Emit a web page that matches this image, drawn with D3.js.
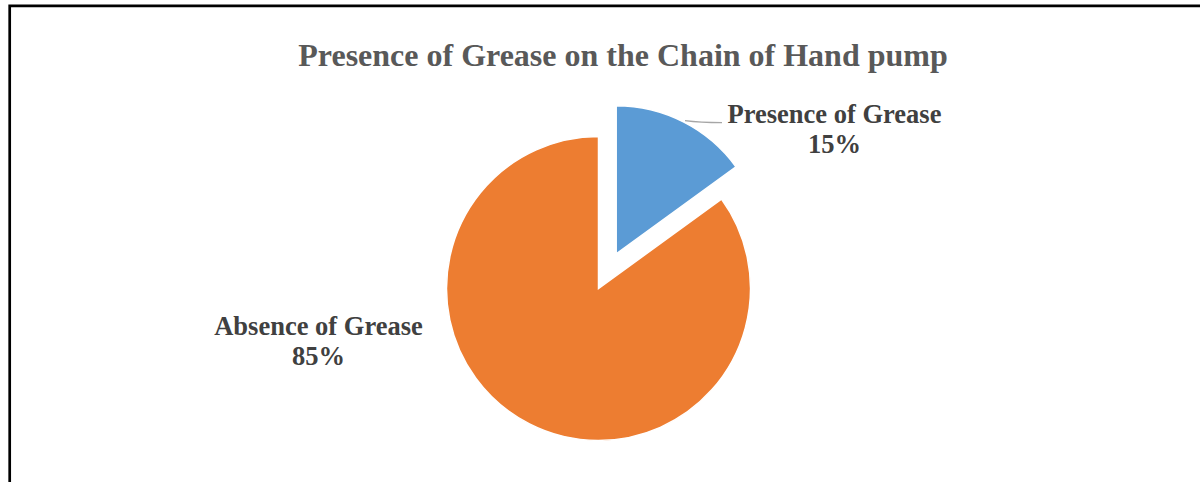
<!DOCTYPE html>
<html>
<head>
<meta charset="utf-8">
<script src="https://cdn.jsdelivr.net/npm/d3@7"></script>
<style>
  body { margin: 0; background: #fff; }
  svg { display: block; }
</style>
</head>
<body>
<div id="chart"></div>
<script>
const labels = ['Presence of Grease', 'Absence of Grease'];
const values = [15, 85];
const colors = ['#5b9bd5', '#ed7d31'];
const title = 'Presence of Grease on the Chain of Hand pump';

const width = 1200;
const height = 482;
const cx = 598.5, cy = 288.5;
const radius = 152;
const explode = 39;
const font = '"Liberation Serif", "Times New Roman", serif';

const svg = d3.select('#chart').append('svg')
  .attr('width', width)
  .attr('height', height);

// frame (only top + left visible in the crop)
svg.append('path')
  .attr('d', `M 9.7 ${height + 5} V 5.9 H ${width + 5}`)
  .attr('fill', 'none')
  .attr('stroke', '#000')
  .attr('stroke-width', 2.7);

svg.append('text')
  .attr('x', 623)
  .attr('y', 66)
  .attr('text-anchor', 'middle')
  .attr('font-family', font)
  .attr('font-weight', 'bold')
  .attr('font-size', 32)
  .attr('fill', '#595959')
  .text(title);

const data = labels.map((l, i) => ({ label: l, value: values[i], color: colors[i] }));

const pie = d3.pie().sort(null).value(d => d.value);
const arcs = pie(data);
const arc = d3.arc().innerRadius(0).outerRadius(radius);

const g = svg.append('g').attr('transform', `translate(${cx},${cy})`);

g.selectAll('path.slice')
  .data(arcs)
  .join('path')
  .attr('class', 'slice')
  .attr('transform', d => {
    if (d.index !== 0) return null;
    const a = (d.startAngle + d.endAngle) / 2;
    return `translate(${explode * Math.sin(a)},${-explode * Math.cos(a)})`;
  })
  .attr('d', d => d.index === 0 ? d3.arc().innerRadius(0).outerRadius(radius - 4)(d) : arc(d))
  .attr('fill', d => d.data.color)
  .attr('stroke', '#fff')
  .attr('stroke-width', 1.5);

// leader line for the small slice
svg.append('path')
  .attr('d', 'M 685 120.7 Q 700 122.7 722 122.7')
  .attr('fill', 'none')
  .attr('stroke', '#a6a6a6')
  .attr('stroke-width', 1.3);

const labelPos = [
  { x: 834.5, y: 123 },
  { x: 318.5, y: 335 }
];

const lab = svg.selectAll('text.lbl')
  .data(arcs)
  .join('text')
  .attr('class', 'lbl')
  .attr('text-anchor', 'middle')
  .attr('font-family', font)
  .attr('font-weight', 'bold')
  .attr('font-size', 26.5)
  .attr('fill', '#404040')
  .attr('x', (d, i) => labelPos[i].x)
  .attr('y', (d, i) => labelPos[i].y);

lab.append('tspan')
  .text(d => d.data.label);
lab.append('tspan')
  .attr('x', (d, i) => labelPos[i].x)
  .attr('dy', 30)
  .text(d => d3.format('.0%')(d.data.value / d3.sum(values)));
</script>
</body>
</html>
